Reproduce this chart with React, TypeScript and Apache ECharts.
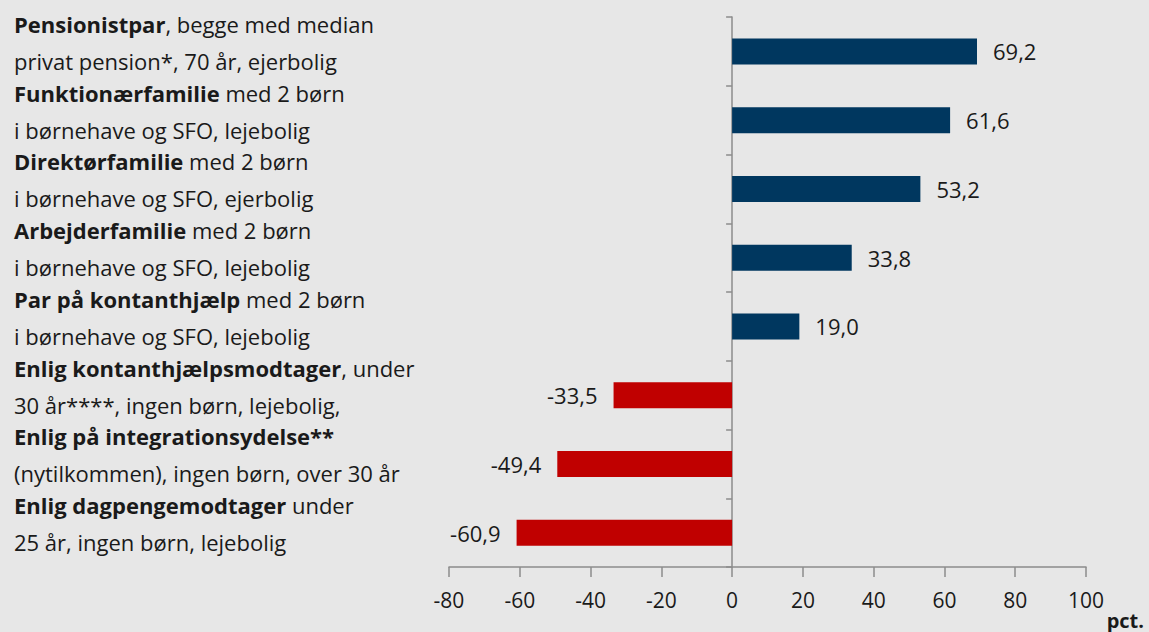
import React, { useEffect, useRef } from "react";
import * as echarts from "echarts";

const boldParts = [
  "Pensionistpar",
  "Funktionærfamilie",
  "Direktørfamilie",
  "Arbejderfamilie",
  "Par på kontanthjælp",
  "Enlig kontanthjælpsmodtager",
  "Enlig på integrationsydelse**",
  "Enlig dagpengemodtager",
];
const restLine1 = [
  ", begge med median",
  " med 2 børn",
  " med 2 børn",
  " med 2 børn",
  " med 2 børn",
  ", under",
  "",
  " under",
];
const line2 = [
  "privat pension*, 70 år, ejerbolig",
  "i børnehave og SFO, lejebolig",
  "i børnehave og SFO, ejerbolig",
  "i børnehave og SFO, lejebolig",
  "i børnehave og SFO, lejebolig",
  "30 år****, ingen børn, lejebolig,",
  "(nytilkommen), ingen børn, over 30 år",
  "25 år, ingen børn, lejebolig",
];
const values = [69.2, 61.6, 53.2, 33.8, 19.0, -33.5, -49.4, -60.9];
const xTicks = { min: -80, max: 100, interval: 20 };
const unitLabel = "pct.";

const categories = boldParts.map((b, i) => b + restLine1[i] + " " + line2[i]);

const BLUE = "#00375f";
const RED = "#c00000";
const FONT = "'Open Sans', Lato, sans-serif";
const TEXT = "#1a1a1a";
const FS = 22;

export default function App() {
  const ref = useRef<HTMLDivElement>(null);
  useEffect(() => {
    if (!ref.current) return;
    const chart = echarts.init(ref.current, null, { renderer: "svg" });
    chart.setOption({
      animation: false,
      backgroundColor: "#e7e7e7",
      grid: {
        left: 449,
        right: 63,
        top: 17,
        bottom: 65,
        containLabel: false,
        outerBoundsMode: "none",
      },
      xAxis: {
        type: "value",
        min: xTicks.min,
        max: xTicks.max,
        interval: xTicks.interval,
        splitLine: { show: false },
        axisLine: { show: true, lineStyle: { color: "#8c8c8c", width: 1.5 } },
        axisTick: { show: true, length: 10, lineStyle: { color: "#8c8c8c", width: 1.5 } },
        axisLabel: {
          fontFamily: FONT,
          fontSize: 21,
          color: TEXT,
          margin: 22,
        },
      },
      yAxis: [
        {
          type: "category",
          inverse: true,
          data: categories,
          axisLine: { show: true, onZero: true, lineStyle: { color: "#8c8c8c", width: 1.5 } },
          axisTick: { show: true, length: 6, lineStyle: { color: "#8c8c8c", width: 1.5 } },
          axisLabel: { show: false },
        },
        {
          type: "category",
          inverse: true,
          position: "left",
          data: categories,
          axisLine: { show: false, onZero: false },
          axisTick: { show: false },
          axisLabel: {
            align: "left",
            margin: 435,
            padding: [0, 0, 18, 0],
            formatter: (_v: string, i: number) =>
              `{b|${boldParts[i]}}{n|${restLine1[i]}}\n{n|${line2[i]}}`,
            rich: {
              b: { fontFamily: FONT, fontSize: FS, fontWeight: "bold", color: TEXT, lineHeight: 37, align: "left" },
              n: { fontFamily: FONT, fontSize: FS, color: TEXT, lineHeight: 37, align: "left" },
            },
          },
        },
      ],
      series: [
        {
          type: "bar",
          barWidth: 26,
          yAxisIndex: 0,
          data: values.map((v) => ({
            value: v,
            itemStyle: { color: v >= 0 ? BLUE : RED },
            label: { position: v >= 0 ? "right" : "left" },
          })),
          label: {
            show: true,
            distance: 16,
            fontFamily: FONT,
            fontSize: FS,
            color: TEXT,
            formatter: (p: any) => p.value.toFixed(1).replace(".", ","),
          },
        },
      ],
      graphic: [
        {
          type: "text",
          right: 5,
          bottom: 2,
          style: {
            text: unitLabel,
            fontFamily: FONT,
            fontSize: 20,
            fontWeight: "bold",
            fill: TEXT,
          },
        },
      ],
    });
    return () => chart.dispose();
  }, []);
  return (
    <div
      ref={ref}
      style={{ position: "absolute", left: 0, top: 0, width: 1149, height: 632 }}
    />
  );
}
